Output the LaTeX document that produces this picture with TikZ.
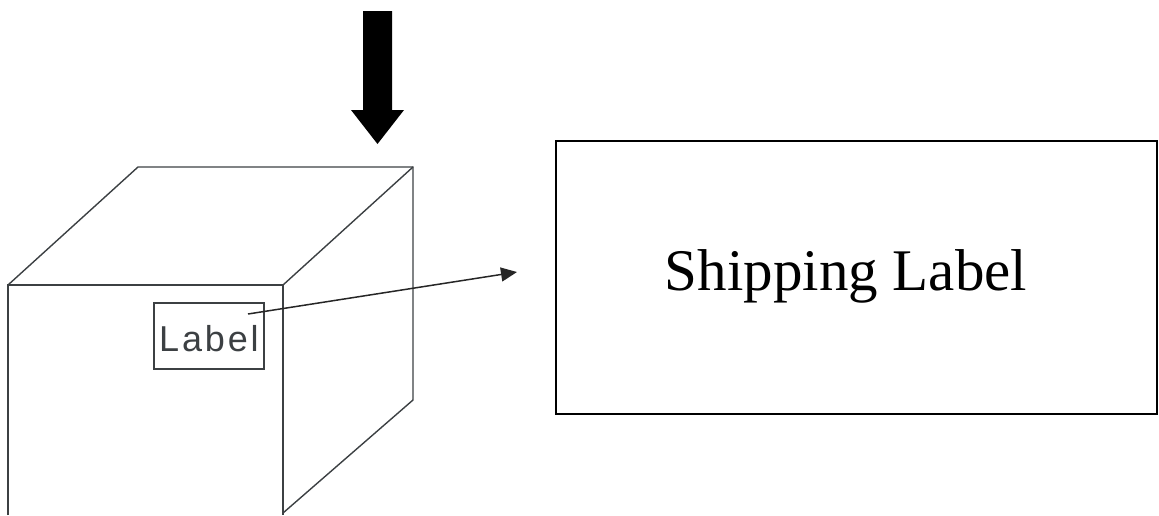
\documentclass[tikz,border=0pt]{standalone}
\usepackage{fontspec}
\setmainfont{Liberation Serif}
\newfontfamily\tagfont[LetterSpace=8]{Liberation Sans}
\usepackage{tikz}
\usetikzlibrary{arrows.meta,positioning}
\definecolor{pen}{HTML}{3C4043}
\tikzset{
  boxline/.style={draw=pen,line width=1.4pt,line join=miter},
  shipbox/.style={draw=black,line width=1.5pt,minimum width=601pt,minimum height=273pt,inner sep=0pt},
  tagbox/.style={boxline,minimum width=110pt,minimum height=66pt,inner sep=0pt,text height=31pt,text depth=0pt,font=\tagfont\fontsize{36}{36}\selectfont,text=pen},
  pointer/.style={draw=black!85,line width=1.5pt,-{Triangle[length=16pt,width=14pt]}}
}
\begin{document}
\begin{tikzpicture}[x=1pt,y=-1pt]
\useasboundingbox (0,0) rectangle (1159,515);
\pgfmathsetmacro{\fx}{8}     % front face left
\pgfmathsetmacro{\fX}{283}   % front face right
\pgfmathsetmacro{\fy}{285}   % front face top
\pgfmathsetmacro{\dx}{130}   % depth offset
\pgfmathsetmacro{\dy}{118}
% box
\draw[boxline] (\fx,515) -- (\fx,\fy) -- (\fX,\fy) -- (\fX,515);
\draw[boxline] (\fx,\fy) -- ++(\dx,-\dy) -- ++(\fX-\fx,0) -- ++(0,233) -- (\fX,513);
\draw[boxline] (\fX,\fy) -- ++(\dx,-\dy);
% load arrow
\fill[black] (363,11) -- (392,11) -- (392,110) -- (404,110) -- (377.5,144) -- (351,110) -- (363,110) -- cycle;
% label on the box
\node[tagbox] (tag) at (209,336) {Label};
\coordinate (tagpt) at (248,314);
% shipping label
\node[shipbox] (ship) at (856.5,277.5) {};
\node[font=\fontsize{59}{59}\selectfont,anchor=base] (shiptext) at (846,290) {Shipping Label};
\coordinate (tip) at (517,272);
\draw[pointer] (tagpt) -- (tip);
\end{tikzpicture}
\end{document}
